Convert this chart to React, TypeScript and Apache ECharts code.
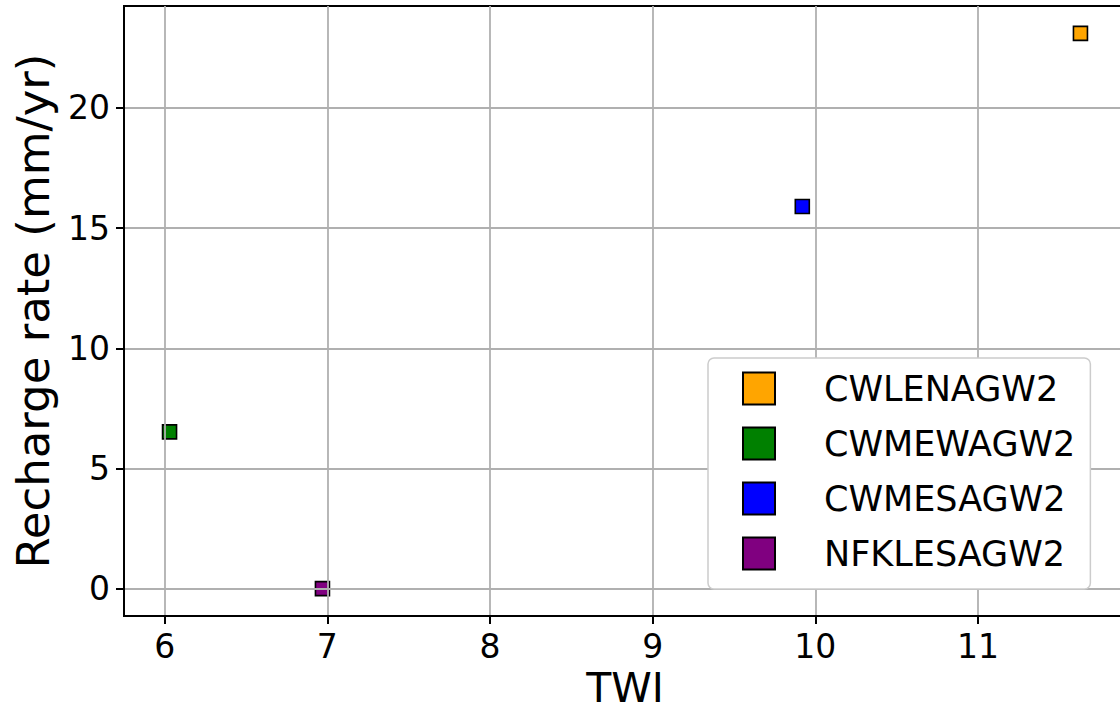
import React, { useEffect, useRef } from "react";
import * as echarts from "echarts";

// Sites and their topographic wetness index vs. recharge rate
const siteNames = ["CWLENAGW2", "CWMEWAGW2", "CWMESAGW2", "NFKLESAGW2"];
const siteColors = ["#FFA500", "#008000", "#0000FF", "#800080"];
const twiValues = [11.63, 6.03, 9.92, 6.97];
const rechargeValues = [23.1, 6.52, 15.9, 0.0];

// Axis tick labels
const xTicks = [6, 7, 8, 9, 10, 11];
const yTicks = [0, 5, 10, 15, 20];

const FONT = "DejaVu Sans";

export default function App() {
  const ref = useRef<HTMLDivElement>(null);

  useEffect(() => {
    if (!ref.current) return;
    const chart = echarts.init(ref.current, undefined, { renderer: "svg" });

    const series = siteNames.map((name, i) => ({
      name,
      type: "scatter",
      data: [[twiValues[i], rechargeValues[i]]],
      symbol: "rect",
      symbolSize: 14,
      itemStyle: {
        color: siteColors[i],
        borderColor: "#000",
        borderWidth: 1.6,
        opacity: 1,
      },
      z: 2,
    }));

    const axisCommon = {
      z: 3,
      axisLine: { show: true, onZero: false, lineStyle: { color: "#000", width: 2 } },
      axisTick: { show: true, length: 8, lineStyle: { color: "#000", width: 2 } },
      splitLine: { show: true, lineStyle: { color: "#b0b0b0", width: 1.8 } },
    };

    chart.setOption({
      animation: false,
      backgroundColor: "#fff",
      grid: {
        left: 124,
        top: 6,
        width: 1002,
        height: 610,
        containLabel: false,
        outerBoundsMode: "none",
        show: true,
        borderColor: "#000",
        borderWidth: 2,
        backgroundColor: "transparent",
      },
      xAxis: {
        ...axisCommon,
        type: "value",
        min: 5.75,
        max: 11.91,
        axisTick: { ...axisCommon.axisTick, customValues: xTicks },
        axisLabel: {
          customValues: xTicks,
          margin: 14,
          fontFamily: FONT,
          fontSize: 33,
          color: "#000",
        },
        name: "TWI",
        nameLocation: "middle",
        nameGap: 46,
        nameTextStyle: { fontFamily: FONT, fontSize: 41, lineHeight: 40, color: "#000" },
      },
      yAxis: {
        ...axisCommon,
        type: "value",
        min: -1.14,
        max: 24.24,
        axisTick: { ...axisCommon.axisTick, customValues: yTicks },
        axisLabel: {
          customValues: yTicks,
          margin: 14,
          fontFamily: FONT,
          fontSize: 33,
          color: "#000",
        },
        name: "Recharge rate (mm/yr)",
        nameLocation: "middle",
        nameGap: 68,
        nameTextStyle: { fontFamily: FONT, fontSize: 45, color: "#000" },
      },
      legend: {
        orient: "vertical",
        left: 708,
        top: 358,
        selectedMode: false,
        data: siteNames,
        itemWidth: 32,
        itemHeight: 32,
        itemGap: 20,
        icon: "rect",
        padding: [13, 15, 18, 34],
        backgroundColor: "#fff",
        borderColor: "#cccccc",
        borderWidth: 1.5,
        borderRadius: 6,
        z: 10,
        itemStyle: { borderColor: "#000", borderWidth: 2 },
        textStyle: {
          fontFamily: FONT,
          fontSize: 35,
          color: "#000",
          lineHeight: 32,
          padding: [0, 0, 0, 44],
        },
      },
      series,
    });

    return () => chart.dispose();
  }, []);

  return (
    <div
      ref={ref}
      style={{ position: "fixed", left: 0, top: 0, width: 1120, height: 709 }}
    />
  );
}
